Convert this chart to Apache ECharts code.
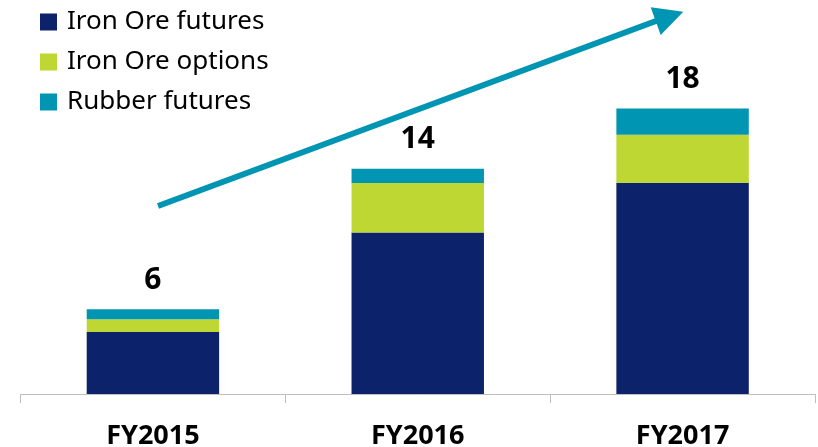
<!DOCTYPE html>
<html>
<head>
<meta charset="utf-8">
<script src="https://cdn.jsdelivr.net/npm/echarts@6/dist/echarts.min.js"></script>
<style>
  html, body { margin: 0; padding: 0; background: #fff; }
  #main { width: 818px; height: 447px; }
</style>
</head>
<body>
<div id="main"></div>
<script>
// data
var years = ["FY2015", "FY2016", "FY2017"];
var ironOreFutures = [3.88, 10.1, 13.2];
var ironOreOptions = [0.79, 3.08, 3.0];
var rubberFutures = [0.62, 0.9, 1.65];
var totalLabels = ["6", "14", "18"];

var navy = "#0c226b";
var lime = "#bed732";
var teal = "#0095b3";

var myChart = echarts.init(document.getElementById("main"));
var option = {
  animation: false,
  textStyle: { fontFamily: "Noto Sans" },
  legend: {
    orient: "vertical",
    left: 40,
    top: 9,
    padding: 0,
    itemWidth: 17,
    itemHeight: 17,
    itemGap: 14,
    icon: "rect",
    textStyle: {
      fontSize: 26,
      lineHeight: 26,
      color: "#000",
      padding: [0, 0, 0, 5]
    },
    data: ["Iron Ore futures", "Iron Ore options", "Rubber futures"]
  },
  grid: {
    left: 20.5,
    right: 3,
    top: 74,
    bottom: 53,
    outerBoundsMode: "none"
  },
  xAxis: {
    type: "category",
    data: years,
    axisLine: { lineStyle: { color: "#bfbfbf", width: 1 } },
    axisTick: { show: true, length: 9, alignWithLabel: false, lineStyle: { color: "#bfbfbf", width: 1 } },
    axisLabel: {
      margin: 29,
      fontSize: 27,
      fontWeight: "bold",
      color: "#000"
    }
  },
  yAxis: {
    type: "value",
    min: 0,
    max: 20,
    show: false,
    splitLine: { show: false }
  },
  series: [
    {
      name: "Iron Ore futures",
      type: "bar",
      stack: "a",
      barWidth: "50%",
      itemStyle: { color: navy },
      data: ironOreFutures
    },
    {
      name: "Iron Ore options",
      type: "bar",
      stack: "a",
      itemStyle: { color: lime },
      data: ironOreOptions
    },
    {
      name: "Rubber futures",
      type: "bar",
      stack: "a",
      itemStyle: { color: teal },
      label: {
        show: true,
        position: "top",
        distance: 14,
        fontSize: 30,
        fontWeight: "bold",
        color: "#000",
        formatter: function (p) {
          return totalLabels[p.dataIndex];
        }
      },
      data: rubberFutures
    }
  ],
  // growth arrow
  graphic: [
    {
      type: "line",
      shape: { x1: 158, y1: 206, x2: 660, y2: 19.5 },
      style: { stroke: teal, lineWidth: 6 }
    },
    {
      type: "polygon",
      shape: { points: [[683.3, 11.7], [650.7, 7.3], [660.7, 35]] },
      style: { fill: teal }
    }
  ]
};
myChart.setOption(option);
window.onresize = myChart.resize;
</script>
</body>
</html>
